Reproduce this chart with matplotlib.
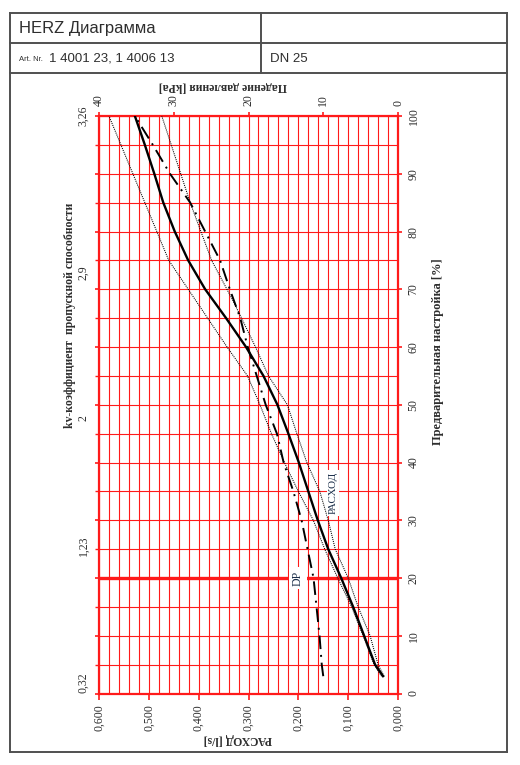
import matplotlib
matplotlib.use('Agg')
import matplotlib.pyplot as plt
from matplotlib.lines import Line2D
from matplotlib.ticker import MultipleLocator, FuncFormatter

# ---------------- data ----------------
presetting = [3, 5, 10, 15, 20, 25, 30, 35, 40, 45, 50, 55, 60, 65, 70, 75, 80, 85, 90, 95, 100]
flow_ls = [0.030, 0.046, 0.068, 0.090, 0.114, 0.140, 0.161, 0.180, 0.199, 0.220, 0.242,
           0.270, 0.305, 0.345, 0.387, 0.421, 0.448, 0.471, 0.489, 0.508, 0.528]
dp_kpa = [10.0, 10.2, 10.5, 10.9, 11.3, 12.1, 12.9, 14.0, 15.3, 16.2, 17.7,
          18.9, 20.1, 21.1, 22.5, 23.8, 25.8, 27.8, 30.5, 32.8, 35.2]

band_hi_pct = [3, 5, 10, 15, 20, 25, 30, 35, 40, 45, 50, 55, 60, 65, 75, 100]
band_hi_flow = [0.033, 0.048, 0.070, 0.093, 0.121, 0.147, 0.170, 0.200, 0.228, 0.254,
                0.277, 0.302, 0.343, 0.382, 0.460, 0.580]
band_lo_pct = [3, 5, 10, 15, 20, 25, 30, 35, 40, 45, 50, 55, 60, 65, 68, 75, 85, 100]
band_lo_flow = [0.028, 0.040, 0.056, 0.080, 0.100, 0.126, 0.140, 0.157, 0.183, 0.203,
                0.222, 0.260, 0.286, 0.314, 0.331, 0.374, 0.417, 0.474]

flow_ticks = [0.0, 0.1, 0.2, 0.3, 0.4, 0.5, 0.6]
dp_ticks = [0, 10, 20, 30, 40]
pct_ticks = [0, 10, 20, 30, 40, 50, 60, 70, 80, 90, 100]
kv_pos = [1.8, 25.5, 47.7, 72.9, 100]
kv_labels = ['0,32', '1,23', '2', '2,9', '3,26']

title_text = 'HERZ Диаграмма'
art_prefix = 'Art. Nr.'
art_text = '1 4001 23, 1 4006 13'
dn_text = 'DN 25'

# ---------------- figure ----------------
W, H = 520, 765
fig = plt.figure(figsize=(W / 100, H / 100), dpi=100)
fig.patch.set_facecolor('white')

def fx(x):
    return x / W

def fy(y):
    return 1 - y / H

SERIF = ['Liberation Serif', 'DejaVu Serif']
SANS = ['Liberation Sans', 'DejaVu Sans']
RED = '#ff1a1a'
TXT = '#2e2e2e'

# frame and header table
frame = '#505050'
def hline(y, x0, x1, lw=1.4):
    fig.add_artist(Line2D([fx(x0), fx(x1)], [fy(y), fy(y)], color=frame, lw=lw,
                          transform=fig.transFigure))

def vline(x, y0, y1, lw=1.4):
    fig.add_artist(Line2D([fx(x), fx(x)], [fy(y0), fy(y1)], color=frame, lw=lw,
                          transform=fig.transFigure))

hline(12.7, 9.5, 507)
hline(42.7, 9.5, 507)
hline(73.3, 9.5, 507)
hline(751.7, 9.5, 507)
vline(9.5, 12.7, 751.7)
vline(507, 12.7, 751.7)
vline(260.7, 12.7, 73.3)

fig.text(fx(19), fy(29), title_text, family=SANS, fontsize=12, color=TXT, va='center', ha='left')
fig.text(fx(19), fy(59.5), art_prefix, family=SANS, fontsize=5.5, color=TXT, va='center', ha='left')
fig.text(fx(49), fy(58.5), art_text, family=SANS, fontsize=9.5, color=TXT, va='center', ha='left')
fig.text(fx(270), fy(58.5), dn_text, family=SANS, fontsize=9.5, color=TXT, va='center', ha='left')

# ---------------- main axes ----------------
ax = fig.add_axes([fx(99), fy(693.5), fx(398) - fx(99), fy(116) - fy(693.5)])
ax.set_xlim(0.6, 0.0)
ax.set_ylim(0, 100)

ax.set_xticks(flow_ticks)
ax.xaxis.set_major_formatter(FuncFormatter(lambda v, p: f'{v:.3f}'.replace('.', ',')))
ax.xaxis.set_minor_locator(MultipleLocator(0.02))
ax.set_yticks(pct_ticks)
ax.yaxis.set_minor_locator(MultipleLocator(5))

ax.grid(True, which='both', color=RED, lw=0.8)
ax.set_axisbelow(True)
for s in ax.spines.values():
    s.set_color(RED)
    s.set_linewidth(1.6)

ax.xaxis.tick_bottom()
ax.tick_params(axis='x', which='major', direction='out', length=4, width=1.2, color=RED,
               pad=4, labelsize=8.5, labelcolor=TXT, labelrotation=90)
ax.tick_params(axis='x', which='minor', length=0)
ax.tick_params(axis='y', which='major', left=True, right=True, labelleft=False, labelright=True,
               direction='out', length=3, width=1.2, color=RED, pad=4, labelsize=8.5,
               labelcolor=TXT, labelrotation=90)
ax.tick_params(axis='y', which='minor', left=True, right=False, length=3, width=1.0, color=RED)
for lab in ax.get_xticklabels():
    lab.set_family(SERIF)
for lab in ax.get_yticklabels():
    lab.set_family(SERIF)
    lab.set_verticalalignment('center')

# thick 20 % line
ax.axhline(20, color=RED, lw=2.4, zorder=1.2)

# tolerance band and flow curve
ax.plot(band_hi_flow, band_hi_pct, color='black', lw=0.75, ls=(0, (1.0, 1.0)), zorder=3)
ax.plot(band_lo_flow, band_lo_pct, color='black', lw=0.75, ls=(0, (1.0, 1.0)), zorder=3)
ax.plot(flow_ls, presetting, color='black', lw=1.7, zorder=4)

ax.text(0.2005, 20, 'DP', rotation=90, ha='center', va='center', family=SERIF, fontsize=8.5,
        color='#1c2f4a', zorder=6,
        bbox=dict(boxstyle='square,pad=0.25', fc='white', ec='none'))
ax.text(0.130, 34.7, 'РАСХОД', rotation=90, ha='center', va='center', family=SERIF, fontsize=8,
        color='#1c2f4a', zorder=6,
        bbox=dict(boxstyle='square,pad=0.15', fc='white', ec='none'))

# kv labels on the left
sec = ax.secondary_yaxis('left')
sec.set_yticks(kv_pos, kv_labels)
sec.spines['left'].set_visible(False)
sec.tick_params(axis='y', length=0, pad=7, labelsize=8.5, labelcolor=TXT)
for lab in sec.get_yticklabels():
    lab.set_rotation(90)
    lab.set_family(SERIF)
    lab.set_verticalalignment('center')

# ---------------- pressure drop axis (top) ----------------
ax_t = ax.twiny()
ax_t.set_xlim(40, 0)
ax_t.set_xticks(dp_ticks)
for s in ax_t.spines.values():
    s.set_visible(False)
ax_t.tick_params(axis='x', direction='out', length=3, width=1.2, color=RED, pad=4,
                 labelsize=8.5, labelcolor=TXT, labelrotation=90)
for lab in ax_t.get_xticklabels():
    lab.set_family(SERIF)
ax_t.plot(dp_kpa, presetting, color='black', lw=1.4, ls=(0, (7, 3, 1, 3)), zorder=4)

# ---------------- axis titles ----------------
fig.text(fx(223), fy(86), 'Падение давления [kPa]', rotation=180, ha='center', va='center',
         family=SERIF, fontsize=8.5, fontweight='bold', color=TXT)
fig.text(fx(238), fy(739), 'РАСХОД [l/s]', rotation=180, ha='center', va='center',
         family=SERIF, fontsize=8.5, fontweight='bold', color=TXT)
fig.text(fx(70), fy(315), 'kv-коэффициент  пропускной способности', rotation=90, ha='center',
         va='center', family=SERIF, fontsize=8.5, fontweight='bold', color=TXT)
fig.text(fx(438), fy(352), 'Предварительная настройка [%]', rotation=90, ha='center',
         va='center', family=SERIF, fontsize=9, fontweight='bold', color=TXT)

fig.savefig('out.png', dpi=100, facecolor='white')
